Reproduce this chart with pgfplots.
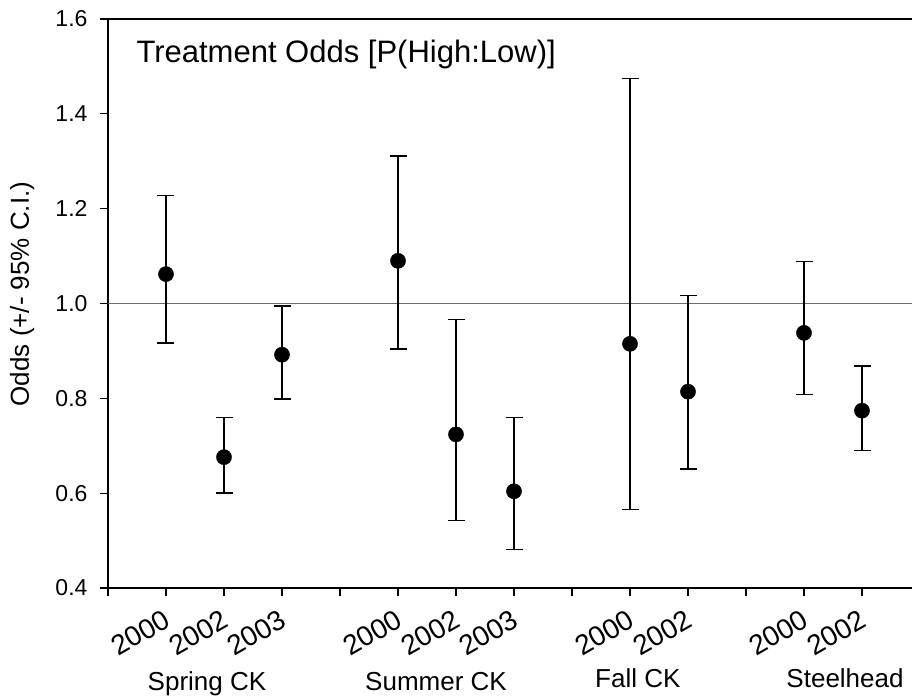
\documentclass[border=0pt]{standalone}
\usepackage{fontspec}
\setmainfont{Liberation Sans}
\usepackage{pgfplots}
\pgfplotsset{compat=1.18}
\begin{document}
\begin{tikzpicture}
\begin{axis}[
  name=ax,
  scale only axis,
  width=804pt, height=569pt,
  xmin=0, xmax=13.862,
  ymin=0.4, ymax=1.6,
  axis x line*=box,
  axis y line*=left,
  axis line style={line width=1.2pt, black},
  tick style={line width=1.2pt, black},
  tick align=outside,
  major tick length=8pt,
  tick pos=left,
  xtick={0,1,2,3,4,5,6,7,8,9,10,11,12,13},
  xticklabels={,2000,2002,2003,,2000,2002,2003,,2000,2002,,2000,2002},
  xticklabel style={font=\fontsize{28}{28}\selectfont, xshift=-3pt, yshift=-11pt, rotate=30, anchor=north east, inner sep=1pt},
  ytick={0.4,0.6,0.8,1.0,1.2,1.4,1.6},
  yticklabels={0.4,0.6,0.8,1.0,1.2,1.4,1.6},
  yticklabel style={font=\fontsize{23}{23}\selectfont, xshift=-9pt},
  ylabel={Odds (+/- 95\% C.I.)},
  every axis y label/.style={at={(rel axis cs:-0.0983,0.5167)}, anchor=base, rotate=90, font=\fontsize{26}{26}\selectfont},
  clip=false,
]
\addplot[color={rgb,255:red,110;green,110;blue,110}, line width=1pt] coordinates {(0,1) (13.862,1)};
\addplot[only marks, mark=*, mark size=7.6pt, mark options={fill=black, draw=none},
  error bars/.cd, y dir=both, y explicit,
  error bar style={line width=1.4pt, black},
  error mark options={rotate=90, mark size=8.5pt, line width=1.4pt, black}]
  table[x=x, y=y, y error plus=ep, y error minus=em] {
x  y     ep    em
1  1.062 0.166 0.145
2  0.676 0.084 0.076
3  0.892 0.103 0.093
5  1.090 0.221 0.186
6  0.724 0.242 0.182
7  0.604 0.155 0.123
9  0.915 0.560 0.350
10 0.814 0.203 0.163
12 0.938 0.151 0.130
13 0.774 0.094 0.084
};
\node[anchor=base west, font=\fontsize{31}{31}\selectfont] at (rel axis cs:0.0311,0.9227) {Treatment Odds [P(High:Low)]};
\node[anchor=base, font=\fontsize{26}{26}\selectfont] at (rel axis cs:0.1231,-0.1793) {Spring CK};
\node[anchor=base, font=\fontsize{26}{26}\selectfont] at (rel axis cs:0.408,-0.1793) {Summer CK};
\node[anchor=base, font=\fontsize{26}{26}\selectfont] at (rel axis cs:0.659,-0.174) {Fall CK};
\node[anchor=base, font=\fontsize{26}{26}\selectfont] at (rel axis cs:0.9167,-0.174) {Steelhead};
\end{axis}
\path (ax.south west) ++(-108pt,-110pt) coordinate (BL);
\path (ax.north east) ++(0pt,19pt) coordinate (TR);
\pgfresetboundingbox
\path[use as bounding box] (BL) rectangle (TR);
\end{tikzpicture}
\end{document}
